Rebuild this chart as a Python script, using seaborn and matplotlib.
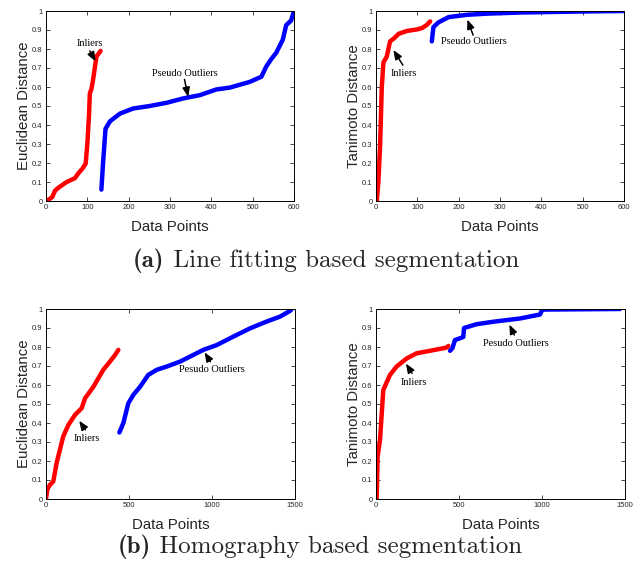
import numpy as np
import matplotlib
matplotlib.use('Agg')
import matplotlib.pyplot as plt
import seaborn as sns

# (a) line fitting - euclidean
a_euc_in_x = [0, 8, 15, 22, 30, 40, 50, 60, 70, 78, 88, 96, 100, 104, 106, 110, 114, 118, 122, 127, 132]
a_euc_in_y = [0, 0.01, 0.02, 0.055, 0.07, 0.085, 0.1, 0.11, 0.12, 0.145, 0.17, 0.197, 0.3, 0.45, 0.566, 0.59, 0.64, 0.70, 0.76, 0.775, 0.79]
a_euc_out_x = [134, 138, 144, 155, 179, 211, 251, 292, 332, 372, 412, 445, 493, 521, 533, 545, 557, 573, 581, 593, 600]
a_euc_out_y = [0.06, 0.2, 0.38, 0.42, 0.46, 0.487, 0.5, 0.517, 0.54, 0.557, 0.587, 0.597, 0.627, 0.654, 0.708, 0.747, 0.78, 0.85, 0.925, 0.95, 1.0]

# (a) line fitting - tanimoto
a_tan_in_x = [2, 6, 10, 14, 18, 26, 34, 43, 55, 75, 99, 111, 122, 131]
a_tan_in_y = [0, 0.11, 0.30, 0.60, 0.73, 0.76, 0.84, 0.855, 0.88, 0.895, 0.903, 0.91, 0.925, 0.945]
a_tan_out_x = [135, 139, 151, 176, 220, 268, 349, 429, 520, 600]
a_tan_out_y = [0.84, 0.915, 0.94, 0.968, 0.98, 0.986, 0.992, 0.995, 0.998, 1.0]

# (b) homography - euclidean
b_euc_in_x = [0, 8, 24, 44, 64, 84, 104, 135, 175, 215, 235, 285, 345, 385, 416, 436]
b_euc_in_y = [0, 0.05, 0.075, 0.093, 0.19, 0.26, 0.33, 0.39, 0.443, 0.478, 0.53, 0.59, 0.68, 0.723, 0.758, 0.785]
b_euc_out_x = [442, 466, 496, 526, 566, 616, 667, 727, 807, 887, 948, 1028, 1129, 1229, 1329, 1410, 1470, 1480]
b_euc_out_y = [0.35, 0.40, 0.504, 0.548, 0.59, 0.653, 0.68, 0.697, 0.723, 0.758, 0.785, 0.81, 0.855, 0.898, 0.934, 0.96, 0.99, 1.0]

# (b) homography - tanimoto
b_tan_in_x = [4, 10, 24, 44, 84, 124, 185, 245, 325, 426, 436]
b_tan_in_y = [0, 0.224, 0.31, 0.574, 0.653, 0.697, 0.74, 0.767, 0.78, 0.797, 0.806]
b_tan_out_x = [446, 460, 476, 506, 526, 530, 606, 707, 867, 988, 998, 1008, 1470]
b_tan_out_y = [0.78, 0.793, 0.837, 0.846, 0.853, 0.9, 0.92, 0.933, 0.95, 0.971, 0.99, 0.997, 1.0]

sns.set_theme(style='white')
plt.rcParams['font.family'] = ['Liberation Sans', 'DejaVu Sans']

fig = plt.figure(figsize=(6.36, 5.72), dpi=100)
W, H = 636, 572


def make_ax(left, top, right, bottom):
    return fig.add_axes([left / W, 1 - bottom / H, (right - left) / W, (bottom - top) / H])


def style_ax(ax, ylabel, xmax, xticks):
    ax.set_xlim(0, xmax)
    ax.set_ylim(0, 1)
    ax.set_xticks(xticks)
    ax.set_xticklabels([f'{t:g}' for t in xticks])
    yt = np.round(np.arange(0, 1.01, 0.1), 1)
    ax.set_yticks(yt)
    ax.set_yticklabels([f'{t:g}' for t in yt])
    ax.tick_params(direction='in', length=3, width=0.6, labelsize=5.5,
                   labelcolor='#262626', top=True, right=True, bottom=True, left=True, pad=2.5)
    for s in ax.spines.values():
        s.set_color('black')
        s.set_linewidth(0.7)
    ax.set_xlabel('Data Points', fontsize=10.8, labelpad=6)
    ax.set_ylabel(ylabel, fontsize=10.8, labelpad=1)


def draw(ax, xi, yi, xo, yo):
    sns.lineplot(x=xi, y=yi, ax=ax, color='#ff0000', linewidth=3.2, estimator=None, sort=False)
    sns.lineplot(x=xo, y=yo, ax=ax, color='#0000ff', linewidth=3.2, estimator=None, sort=False)


def note(ax, text, txy, tail, head):
    ax.annotate('', xy=head, xytext=tail,
                arrowprops=dict(arrowstyle='-|>,head_length=0.55,head_width=0.22', color='black',
                                lw=1.1, shrinkA=0, shrinkB=0, mutation_scale=10))
    ax.text(txy[0], txy[1], text, ha='center', va='center', fontsize=7.5,
            family='Liberation Serif', color='black')


ax1 = make_ax(46, 11, 294, 201)
draw(ax1, a_euc_in_x, a_euc_in_y, a_euc_out_x, a_euc_out_y)
style_ax(ax1, 'Euclidean Distance', 600, [0, 100, 200, 300, 400, 500, 600])
note(ax1, 'Inliers', (105, 0.83), (106, 0.79), (120, 0.735))
note(ax1, 'Pseudo Outliers', (336, 0.671), (335, 0.64), (344, 0.548))

ax2 = make_ax(376, 11, 624, 201)
draw(ax2, a_tan_in_x, a_tan_in_y, a_tan_out_x, a_tan_out_y)
style_ax(ax2, 'Tanimoto Distance', 600, [0, 100, 200, 300, 400, 500, 600])
note(ax2, 'Pseudo Outliers', (238, 0.838), (235, 0.873), (221, 0.955))
note(ax2, 'Inliers', (68, 0.671), (65, 0.715), (42, 0.795))

ax3 = make_ax(46, 309, 295, 499)
draw(ax3, b_euc_in_x, b_euc_in_y, b_euc_out_x, b_euc_out_y)
style_ax(ax3, 'Euclidean Distance', 1500, [0, 500, 1000, 1500])
note(ax3, 'Inliers', (245, 0.319), (237, 0.364), (200, 0.412))
note(ax3, 'Pesudo Outliers', (998, 0.68), (990, 0.723), (955, 0.772))

ax4 = make_ax(376, 309, 625, 499)
draw(ax4, b_tan_in_x, b_tan_in_y, b_tan_out_x, b_tan_out_y)
style_ax(ax4, 'Tanimoto Distance', 1500, [0, 500, 1000, 1500])
note(ax4, 'Inliers', (229, 0.613), (217, 0.662), (180, 0.713))
note(ax4, 'Pesudo Outliers', (843, 0.82), (833, 0.863), (803, 0.918))


def caption(label, rest, cx, cy, size=18):
    r = fig.canvas.get_renderer()
    t1 = fig.text(0, 1 - cy / H, label, ha='left', va='center', fontsize=size, family='cmb10')
    t2 = fig.text(0, 1 - cy / H, ' ' + rest, ha='left', va='center', fontsize=size, family='cmr10')
    w1 = t1.get_window_extent(r).width
    w2 = t2.get_window_extent(r).width
    x0 = cx - (w1 + w2) / 2
    t1.set_x(x0 / W)
    t2.set_x((x0 + w1) / W)


caption('(a)', 'Line fitting based segmentation', 326, 261)
caption('(b)', 'Homography based segmentation', 320, 547)

fig.savefig('out.png', dpi=100)
